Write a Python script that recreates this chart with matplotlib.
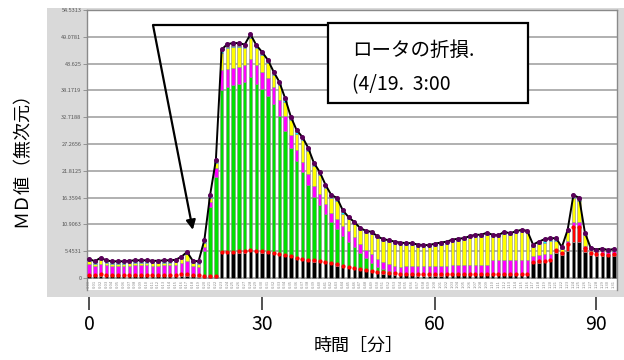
import matplotlib
matplotlib.use("Agg")
import matplotlib.pyplot as plt
from matplotlib.patches import Rectangle
import numpy as np

plt.rcParams["font.family"] = ["Noto Sans CJK JP", "DejaVu Sans"]

# one stacked bar per minute, 0..91
minutes = list(range(92))

black = [
    0.4, 0.4, 0.5, 0.4, 0.4, 0.4, 0.4, 0.4, 0.4, 0.4,
    0.4, 0.4, 0.4, 0.4, 0.4, 0.4, 0.5, 0.5, 0.4, 0.3,
    0.3, 0.3, 0.3, 5.0, 5.0, 5.0, 5.1, 5.1, 5.4, 5.2,
    5.1, 5.0, 4.8, 4.6, 4.4, 4.2, 3.8, 3.6, 3.4, 3.3,
    3.2, 3.0, 2.8, 2.5, 2.2, 2.0, 1.8, 1.6, 1.4, 1.2,
    1.0, 0.9, 0.8, 0.7, 0.6, 0.6, 0.6, 0.5, 0.5, 0.5,
    0.5, 0.5, 0.6, 0.6, 0.6, 0.6, 0.6, 0.6, 0.6, 0.6,
    0.6, 0.6, 0.6, 0.6, 0.6, 0.6, 0.6, 3.0, 3.1, 3.2,
    3.4, 5.0, 4.6, 5.5, 7.3, 7.3, 5.3, 4.7, 4.5, 4.5,
    4.4, 4.5]
red = [
    0.3, 0.3, 0.3, 0.3, 0.3, 0.3, 0.3, 0.3, 0.3, 0.3,
    0.3, 0.3, 0.3, 0.3, 0.3, 0.3, 0.3, 0.3, 0.3, 0.3,
    0.2, 0.2, 0.2, 0.3, 0.3, 0.3, 0.3, 0.3, 0.3, 0.3,
    0.3, 0.3, 0.3, 0.3, 0.3, 0.3, 0.3, 0.3, 0.3, 0.3,
    0.3, 0.3, 0.3, 0.3, 0.3, 0.3, 0.3, 0.3, 0.3, 0.3,
    0.3, 0.3, 0.3, 0.3, 0.3, 0.3, 0.3, 0.3, 0.3, 0.3,
    0.3, 0.3, 0.3, 0.3, 0.3, 0.3, 0.3, 0.3, 0.3, 0.3,
    0.3, 0.3, 0.3, 0.3, 0.3, 0.3, 0.3, 0.3, 0.3, 0.3,
    0.3, 0.6, 0.4, 1.5, 3.1, 3.0, 0.8, 0.3, 0.3, 0.3,
    0.3, 0.3]
green = [
    0, 0, 0, 0, 0, 0, 0, 0, 0, 0,
    0, 0, 0, 0, 0, 0, 0, 0, 0, 0.2,
    5.0, 14.0, 20.0, 33.0, 33.5, 33.9, 34.1, 34.4, 35.3, 34.0,
    33.1, 31.7, 30.4, 28.1, 25.3, 22.0, 19.7, 17.7, 15.3, 12.9,
    11.4, 9.7, 8.2, 7.2, 6.0, 5.1, 4.2, 3.2, 2.3, 1.5,
    1.0, 0.6, 0.4, 0.2, 0.1, 0, 0, 0, 0, 0,
    0, 0, 0, 0, 0, 0, 0, 0, 0, 0,
    0, 0, 0, 0, 0, 0, 0, 0, 0, 0,
    0, 0, 0, 0, 0, 0, 0, 0, 0, 0,
    0, 0]
magenta = [
    2.1, 1.8, 2.1, 1.9, 1.8, 1.8, 1.8, 1.8, 1.9, 1.9,
    1.9, 1.8, 1.8, 1.9, 1.9, 1.9, 2.2, 2.6, 1.7, 1.5,
    0.9, 1.0, 1.8, 4.0, 3.8, 3.6, 3.5, 3.5, 3.5, 3.8,
    3.5, 3.6, 3.3, 3.3, 3.0, 2.5, 2.2, 2.0, 2.2, 2.3,
    2.1, 2.0, 2.0, 2.0, 2.1, 2.2, 2.0, 1.9, 1.8, 1.8,
    1.6, 1.5, 1.3, 1.3, 1.3, 1.6, 1.6, 1.6, 1.6, 1.6,
    1.6, 1.6, 1.6, 1.8, 1.8, 1.8, 1.8, 1.8, 1.8, 1.8,
    2.8, 2.8, 2.8, 2.8, 2.8, 2.8, 2.8, 1.2, 1.3, 1.3,
    1.2, 0.3, 0.2, 0.5, 1.0, 1.0, 0.4, 0.4, 0.5, 0.7,
    0.6, 0.7]
yellow = [
    0.6, 0.4, 0.7, 0.5, 0.4, 0.4, 0.4, 0.5, 0.5, 0.5,
    0.5, 0.5, 0.5, 0.5, 0.5, 0.6, 0.8, 1.4, 0.6, 0.6,
    0.8, 0.8, 1.2, 3.5, 4.2, 4.2, 4.0, 3.4, 4.3, 3.4,
    3.3, 3.1, 2.5, 2.9, 2.9, 3.1, 3.4, 4.4, 4.6, 3.9,
    3.9, 3.3, 2.9, 3.6, 2.5, 2.4, 2.7, 2.8, 3.4, 4.2,
    4.2, 4.2, 4.5, 4.5, 4.5, 4.2, 4.2, 4.0, 3.9, 3.9,
    4.2, 4.4, 4.5, 4.7, 4.9, 5.0, 5.4, 5.7, 5.7, 6.1,
    4.7, 4.6, 5.3, 5.0, 5.4, 5.7, 5.5, 1.8, 2.2, 2.4,
    2.7, 1.7, 0.7, 1.8, 4.8, 4.3, 2.2, 0.3, 0.1, 0.1,
    0.0, 0.0]
cyan = [
    0.3, 0.3, 0.3, 0.3, 0.3, 0.3, 0.3, 0.3, 0.3, 0.3,
    0.3, 0.3, 0.3, 0.3, 0.3, 0.3, 0.3, 0.3, 0.3, 0.3,
    0.3, 0.3, 0.2, 0.3, 0.3, 0.3, 0.3, 0.3, 0.3, 0.3,
    0.3, 0.3, 0.3, 0.3, 0.3, 0.3, 0.3, 0.3, 0.3, 0.3,
    0.3, 0.3, 0.3, 0.3, 0.3, 0.2, 0.2, 0.2, 0.2, 0.2,
    0.2, 0.2, 0.2, 0.2, 0.2, 0.2, 0.2, 0.2, 0.2, 0.2,
    0.2, 0.2, 0.2, 0.2, 0.2, 0.2, 0.2, 0.2, 0.2, 0.2,
    0.2, 0.2, 0.2, 0.2, 0.2, 0.2, 0.2, 0.3, 0.3, 0.5,
    0.3, 0.3, 0.2, 0.3, 0.3, 0.3, 0.3, 0.2, 0.2, 0.2,
    0.2, 0.2]
purple = [
    0.2, 0.2, 0.2, 0.2, 0.2, 0.2, 0.2, 0.2, 0.2, 0.2,
    0.2, 0.2, 0.2, 0.2, 0.2, 0.2, 0.2, 0.2, 0.2, 0.2,
    0.2, 0.3, 0.3, 0.4, 0.5, 0.5, 0.5, 0.5, 0.5, 0.4,
    0.4, 0.4, 0.4, 0.4, 0.4, 0.4, 0.4, 0.4, 0.4, 0.4,
    0.4, 0.4, 0.4, 0.4, 0.4, 0.2, 0.2, 0.2, 0.2, 0.2,
    0.2, 0.2, 0.2, 0.2, 0.2, 0.2, 0.2, 0.2, 0.2, 0.2,
    0.2, 0.2, 0.2, 0.2, 0.2, 0.2, 0.2, 0.2, 0.2, 0.2,
    0.2, 0.2, 0.2, 0.2, 0.2, 0.2, 0.2, 0.2, 0.2, 0.2,
    0.2, 0.2, 0.2, 0.2, 0.4, 0.4, 0.2, 0.2, 0.2, 0.2,
    0.2, 0.2]

series = [black, red, green, magenta, yellow, cyan, purple]
colors = ["#000000", "#ff0000", "#00e000", "#ff00ff", "#ffff00", "#00ffff", "#660066"]

ytick_vals = [0, 5.4531, 10.9063, 16.3594, 21.8125, 27.2656, 32.7188,
              38.1719, 43.625, 49.0781, 54.5313]
ytick_labels = ["0", "5.4531", "10.9063", "16.3594", "21.8125", "27.2656",
                "32.7188", "38.1719", "43.625", "49.0781", "54.5313"]

outer_ticks = [0, 30, 60, 88]   # the pasted axis sits slightly off at 90
outer_labels = ["0", "30", "60", "90"]

W, H = 624, 360
fig = plt.figure(figsize=(W / 100, H / 100), dpi=100)

# grey frame of the screenshot
fig.add_artist(Rectangle((47 / W, 1 - 297 / H), (624 - 47) / W, (297 - 8) / H,
                         transform=fig.transFigure, facecolor="#d9d9d9",
                         edgecolor="none", zorder=-5))

ax = fig.add_axes([87 / W, 1 - 290 / H, 530 / W, 280 / H])
ax.set_facecolor("white")
ax.set_xlim(-0.35, 91.56)
ax.set_ylim(-2.44, 54.5313)

bottom = np.zeros(len(minutes))
levels = []
for vals, col in zip(series, colors):
    ax.bar(minutes, vals, bottom=bottom, width=0.6, color=col,
           edgecolor="#8c8c8c", linewidth=0.4, zorder=3)
    bottom = bottom + np.array(vals)
    levels.append(bottom.copy())

total = levels[-1]
ax.plot(minutes, total, color="black", lw=1.4, zorder=4)
ax.plot(minutes, total, "o", color="#5a005a", ms=2.6, zorder=5)
ax.plot(minutes, levels[1], "o", color="#ff0000", ms=2.0, zorder=5)

for yv in ytick_vals:
    ax.axhline(yv, color="#aaaaaa", lw=1.3, zorder=1)

ax.set_yticks(ytick_vals)
ax.set_yticklabels(ytick_labels, fontsize=4, color="#555555")
ax.tick_params(axis="y", length=3, width=0.6, color="#888888", pad=1)
ax.set_xticks([])
for s in ["left", "right", "top"]:
    ax.spines[s].set_color("#8a8a8a")
    ax.spines[s].set_linewidth(1.0)
ax.spines["bottom"].set_visible(False)

# the unreadable per-bar stamp strip under the zero line
for m in minutes:
    ax.text(m, -1.25, f"{m // 60}:{m % 60:02d}", fontsize=3, rotation=90,
            ha="center", va="center", color="#8a8a8a", zorder=2)

# annotation box and arrow
ax.add_patch(Rectangle((0.4547, 0.668), 0.832 - 0.4547, 0.9536 - 0.668,
                       transform=ax.transAxes, facecolor="white",
                       edgecolor="black", lw=1.6, zorder=6))
ax.text(0.50, 0.857, "ロータの折損.", transform=ax.transAxes, fontsize=14,
        ha="left", va="center", zorder=7)
ax.text(0.50, 0.732, "(4/19.  3:00", transform=ax.transAxes, fontsize=14,
        ha="left", va="center", zorder=7)
ax.plot([0.4547, 0.1245], [0.9464, 0.9464], color="black", lw=1.6,
        transform=ax.transAxes, zorder=6, solid_capstyle="butt")
ax.annotate("", xy=(18.0, 9.8), xycoords="data",
            xytext=(0.1245, 0.9464), textcoords="axes fraction",
            arrowprops=dict(arrowstyle="-|>", lw=1.6, color="black",
                            mutation_scale=14, shrinkA=0, shrinkB=0),
            zorder=6)

# outer time axis pasted under the screenshot
ax2 = fig.add_axes([87 / W, 1 - 297 / H, 530 / W, 0.001])
ax2.set_xlim(-0.35, 91.56)
ax2.set_yticks([])
for s in ax2.spines.values():
    s.set_visible(False)
ax2.set_xticks(outer_ticks)
ax2.set_xticklabels(outer_labels, fontsize=14)
ax2.tick_params(axis="x", length=9, width=1.2, color="#333333", pad=3)
ax2.patch.set_alpha(0)

fig.text(359 / W, 1 - 346 / H, "時間［分］", fontsize=13, ha="center", va="center")
fig.text(22 / W, 1 - 155 / H, "ＭＤ値（無次元）", fontsize=13, rotation=90,
         ha="center", va="center")

fig.savefig("out.png", dpi=100)
